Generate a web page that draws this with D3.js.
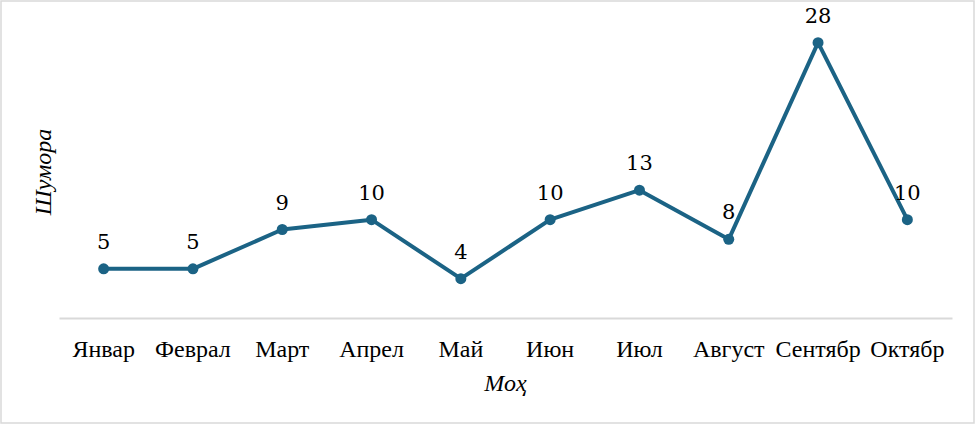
<!DOCTYPE html>
<html>
<head>
<meta charset="utf-8">
<script src="https://cdn.jsdelivr.net/npm/d3@7"></script>
<style>
  html, body { margin: 0; padding: 0; background: #fff; }
</style>
</head>
<body>
<div id="chart"></div>
<script>
const months = ["Январ", "Феврал", "Март", "Апрел", "Май", "Июн", "Июл", "Август", "Сентябр", "Октябр"];
const counts = [5, 5, 9, 10, 4, 10, 13, 8, 28, 10];
const xTitle = "Моҳ";
const yTitle = "Шумора";

const width = 976;
const height = 425;
const margin = { top: 23, right: 24, bottom: 107, left: 59 };
const lineColor = "#1b6385";
const serif = "'Times New Roman', 'Liberation Serif', serif";
const digitFont = "'DejaVu Serif', serif";

const svg = d3.select("#chart")
    .append("svg")
    .attr("width", width)
    .attr("height", height)
    .style("font-family", serif);

// outer border
svg.append("rect")
    .attr("x", 1).attr("y", 1)
    .attr("width", width - 3).attr("height", height - 3)
    .attr("fill", "#fff")
    .attr("stroke", "#d9d9d9")
    .attr("stroke-width", 1.5);

const x = d3.scaleBand()
    .domain(months)
    .range([margin.left, width - margin.right]);

const y = d3.scaleLinear()
    .domain([0, 30])
    .range([height - margin.bottom, margin.top]);

const data = months.map((m, i) => ({ month: m, value: counts[i] }));
const cx = d => x(d.month) + x.bandwidth() / 2;

// x axis
const xAxis = svg.append("g")
    .attr("transform", `translate(0, ${y(0)})`)
    .call(d3.axisBottom(x).tickSize(0).tickPadding(22));
xAxis.attr("font-family", null).attr("font-size", 24);
xAxis.select(".domain").attr("stroke", "#d9d9d9").attr("stroke-width", 2);
xAxis.selectAll(".tick text").attr("fill", "#000").style("font-family", serif);

// line
const line = d3.line().x(cx).y(d => y(d.value));
svg.append("path")
    .datum(data)
    .attr("fill", "none")
    .attr("stroke", lineColor)
    .attr("stroke-width", 4)
    .attr("stroke-linejoin", "round")
    .attr("d", line);

svg.selectAll(".dot")
    .data(data)
    .enter().append("circle")
    .attr("class", "dot")
    .attr("cx", cx)
    .attr("cy", d => y(d.value))
    .attr("r", 5.5)
    .attr("fill", lineColor);

// value labels above points
svg.selectAll(".lbl")
    .data(data)
    .enter().append("text")
    .attr("class", "lbl")
    .attr("x", cx)
    .attr("y", d => y(d.value) - 20)
    .attr("text-anchor", "middle")
    .style("font-family", digitFont)
    .attr("font-size", 21)
    .attr("fill", "#000")
    .text(d => String(d.value));

// axis titles
svg.append("text")
    .attr("x", (margin.left + width - margin.right) / 2)
    .attr("y", 391)
    .attr("text-anchor", "middle")
    .style("font-family", serif)
    .attr("font-size", 24)
    .attr("font-style", "italic")
    .attr("fill", "#000")
    .text(xTitle);

svg.append("text")
    .attr("transform", `translate(51, 172) rotate(-90)`)
    .attr("text-anchor", "middle")
    .style("font-family", serif)
    .attr("font-size", 24)
    .attr("font-style", "italic")
    .attr("fill", "#000")
    .text(yTitle);
</script>
</body>
</html>
